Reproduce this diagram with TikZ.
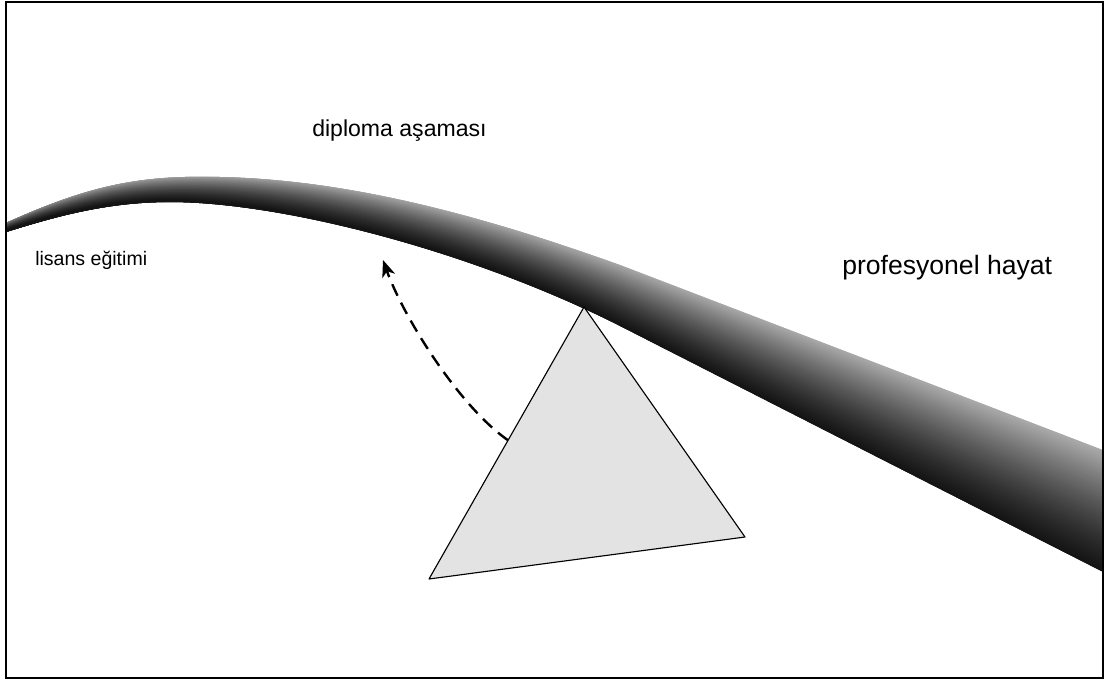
\documentclass[tikz,border=0pt]{standalone}
\usepackage{fontspec}
\setmainfont{Liberation Sans}
\usetikzlibrary{arrows.meta,calc}

\begin{document}
\begin{tikzpicture}[>=Stealth, x=0.025cm, y=-0.025cm,
  every node/.style={inner sep=0pt, anchor=base west},
  tri/.style={draw, fill=black!11, line width=0.8pt, line join=round},
  back arrow/.style={-{Stealth[length=12pt,width=9.5pt,inset=3.5pt]},
    dash pattern=on 9pt off 5.5pt, line width=1.7pt}]
  \useasboundingbox (0,0) rectangle (1107,680);
  % upper and lower edge of the band
  \coordinate (a0) at (6,223);   \coordinate (b0) at (6,232);
  \coordinate (a1) at (90,185);  \coordinate (b1) at (60,215);
  \coordinate (a2) at (140,175); \coordinate (b2) at (110,202);
  \coordinate (a3) at (220,177); \coordinate (b3) at (170,202);
  \coordinate (a4) at (350,180); \coordinate (b4) at (280,202);
  \coordinate (a5) at (480,215); \coordinate (b5) at (470,250);
  \coordinate (a6) at (620,265); \coordinate (b6) at (620,326);
  \coordinate (a7) at (1103,450); \coordinate (b7) at (1103,572);
  \begin{scope}
    \clip (a0) .. controls (a1) and (a2) .. (a3) .. controls (a4) and (a5) .. (a6)
      -- (a7) -- (b7) -- (b6) .. controls (b5) and (b4) .. (b3)
      .. controls (b2) and (b1) .. (b0) -- cycle;
    \foreach \i [evaluate=\i as \pos using \i/40,
                 evaluate=\i as \tone using 32+60*(\i/40)*(1.4-0.4*\i/40)] in {0,...,40} {
      \draw[line width=0.12cm, draw=black!\tone!white]
        ($(a0)!\pos!(b0)$) .. controls ($(a1)!\pos!(b1)$) and ($(a2)!\pos!(b2)$) .. ($(a3)!\pos!(b3)$)
        .. controls ($(a4)!\pos!(b4)$) and ($(a5)!\pos!(b5)$) .. ($(a6)!\pos!(b6)$)
        -- ($(a7)!\pos!(b7)$);
    }
  \end{scope}

  % labels
  \node (lisans) at (35,265) {\fontsize{13.9}{16}\selectfont lisans eğitimi};
  \node (diploma) at (312,136) {\fontsize{16.4}{19}\selectfont diploma aşaması};
  \node (hayat) at (842,274) {\fontsize{18.9}{22}\selectfont profesyonel hayat};

  % triangle and arrow
  \coordinate (apex) at (584,307);
  \coordinate (rcorner) at (745,537);
  \coordinate (lcorner) at (429,579);
  \draw[tri] (apex) -- (rcorner) -- (lcorner) -- cycle;
  \coordinate (start) at ($(apex)!0.49!(lcorner)$);
  \coordinate (tip) at (383,260);
  \draw[back arrow] (start) .. controls +(-50,-35) and +(20,56) .. (tip);

  \draw[line width=1.5pt] (6,2) rectangle (1103,678);
\end{tikzpicture}
\end{document}
